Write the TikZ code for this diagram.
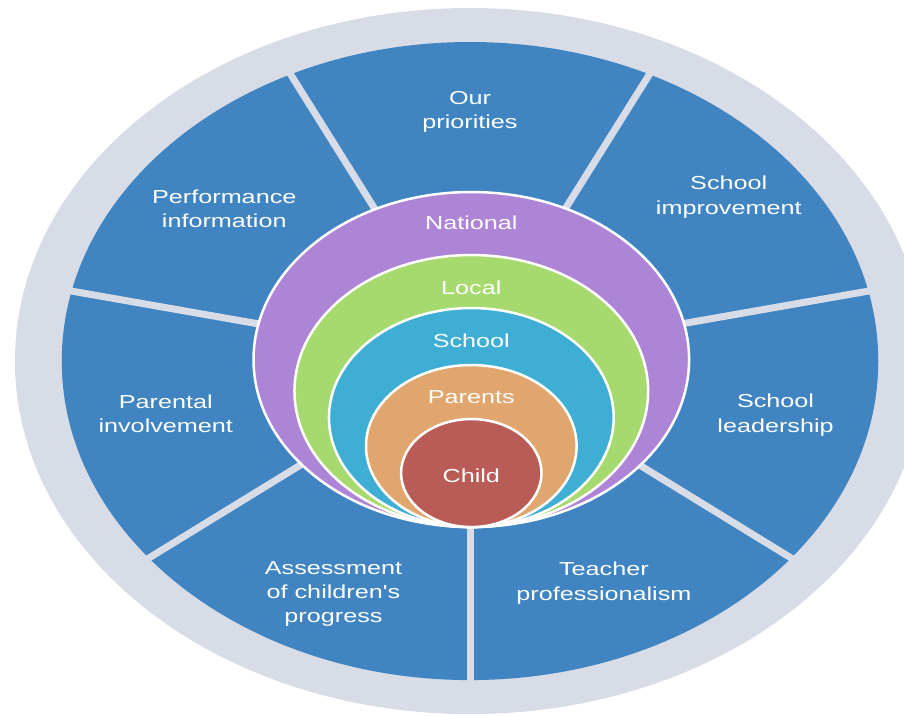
\documentclass[tikz,border=0pt]{standalone}
\usepackage{fontspec}
\newfontfamily\segfont[FakeStretch=1.34,Ligatures=TeXOff]{Liberation Sans}
\definecolor{ringgrey}{HTML}{D7DCE6}
\definecolor{segblue}{HTML}{4085C2}
\definecolor{natpurple}{HTML}{AE85D6}
\definecolor{locgreen}{HTML}{A6D96E}
\definecolor{schcyan}{HTML}{3EAED5}
\definecolor{parorange}{HTML}{E0A66E}
\definecolor{chred}{HTML}{B95C58}

\begin{document}
\begin{tikzpicture}[x=1.3pt,y=1pt,
	lbl/.style={text=white,align=center,inner sep=0pt,font=\segfont\fontsize{18.8}{24.3}\selectfont},
	ring/.style={draw=white,line width=2.5pt}]
\useasboundingbox (-361.5,-354) rectangle (333.8,361);

\fill[ringgrey] (0,0) ellipse [x radius=350, y radius=353];
\fill[segblue] (0,0) ellipse [x radius=314, y radius=319];

\foreach \a in {64.29,115.71,12.86,167.14,-38.57,218.57,270}
	\draw[ringgrey,line width=7pt](0,0)--(\a:338);

\foreach \r/\c in {167.5/natpurple,136/locgreen,109.5/schcyan,81/parorange,54/chred}
	\draw[ring,fill=\c](1,-166+\r) circle (\r);

\node[lbl] (prio) at (0,249) {Our\\priorities};
\node[lbl] (improve) at (199,164) {School\\improvement};
\node[lbl] (perform) at (-189,152) {Performance\\information};
\node[lbl] (parental) at (-234,-53) {Parental\\involvement};
\node[lbl] (leader) at (235,-54) {School\\leadership};
\node[lbl] (assess) at (-105,-233) {Assessment\\of children's\\progress};
\node[lbl] (teacher) at (103,-222) {Teacher\\professionalism};

\node[lbl,text depth=0pt] (national) at (1,138) {National};
\node[lbl,text depth=0pt] (local) at (1,73) {Local};
\node[lbl,text depth=0pt] (school) at (1,20) {School};
\node[lbl,text depth=0pt] (parents) at (1,-36) {Parents};
\node[lbl,text depth=0pt] (child) at (1,-115) {Child};

\end{tikzpicture}
\end{document}
